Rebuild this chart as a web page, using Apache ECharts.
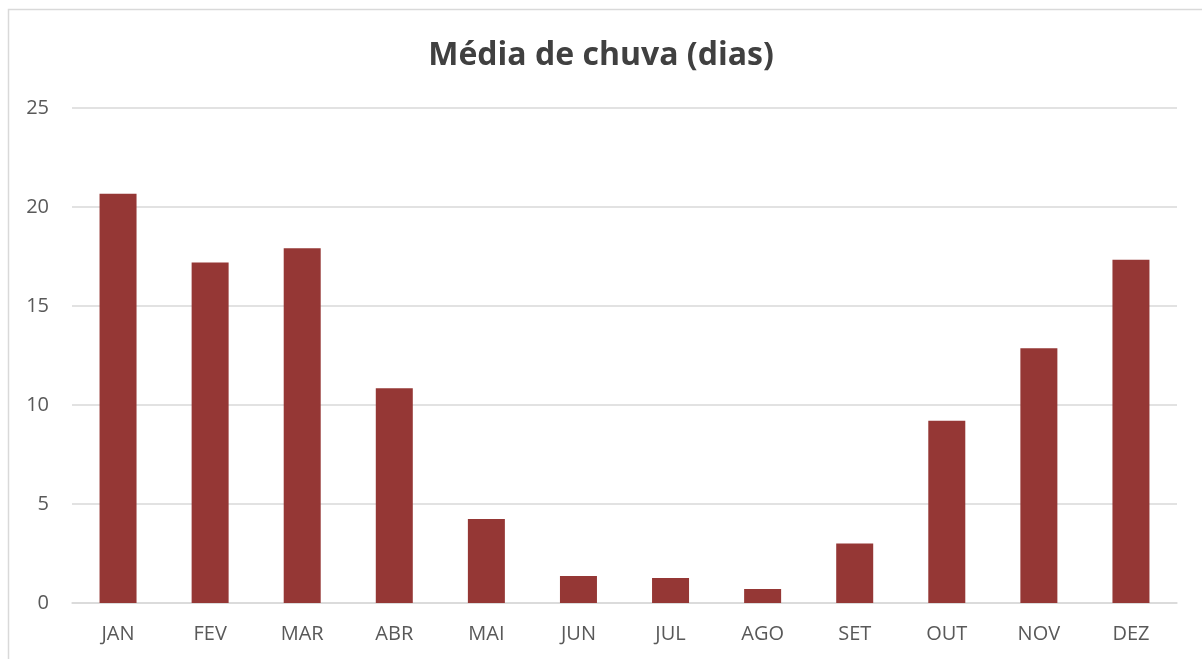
<!DOCTYPE html>
<html>
<head>
<meta charset="utf-8">
<script src="https://cdn.jsdelivr.net/npm/echarts@6/dist/echarts.min.js"></script>
<style>
html,body{margin:0;padding:0;background:#fff;}
#c{width:1202px;height:659px;}
</style>
</head>
<body>
<div id="c"></div>
<script>
const title = 'Média de chuva (dias)';
const categories = ['JAN','FEV','MAR','ABR','MAI','JUN','JUL','AGO','SET','OUT','NOV','DEZ'];
const values = [20.67, 17.2, 17.92, 10.85, 4.24, 1.36, 1.26, 0.71, 3.0, 9.2, 12.86, 17.33];
const yTicks = [0, 5, 10, 15, 20, 25];

const chart = echarts.init(document.getElementById('c'), null, {renderer: 'canvas'});
chart.setOption({
  backgroundColor: '#ffffff',
  animation: false,
  graphic: [{
    type: 'rect',
    shape: {x: 8.5, y: 9.5, width: 1220, height: 680},
    style: {fill: 'none', stroke: '#d9d9d9', lineWidth: 1.5},
    silent: true
  }],
  title: {
    text: title,
    left: 'center',
    top: 35,
    textStyle: {fontFamily: 'Open Sans', fontWeight: 'bold', fontSize: 32, color: '#404040'}
  },
  grid: {left: 72, right: 25, top: 108, bottom: 56, containLabel: false},
  xAxis: {
    type: 'category',
    data: categories,
    axisLine: {show: true, lineStyle: {color: '#d9d9d9', width: 1.5}},
    axisTick: {show: false},
    axisLabel: {color: '#595959', fontFamily: 'Open Sans', fontSize: 20, margin: 21}
  },
  yAxis: {
    type: 'value',
    min: yTicks[0],
    max: yTicks[yTicks.length - 1],
    interval: 5,
    axisLine: {show: false},
    axisTick: {show: false},
    splitLine: {lineStyle: {color: '#d9d9d9', width: 1.5}},
    axisLabel: {color: '#595959', fontFamily: 'Open Sans', fontSize: 20, margin: 23}
  },
  series: [{
    type: 'bar',
    data: values,
    barWidth: 37,
    itemStyle: {color: '#953735'}
  }]
});
</script>
</body>
</html>
